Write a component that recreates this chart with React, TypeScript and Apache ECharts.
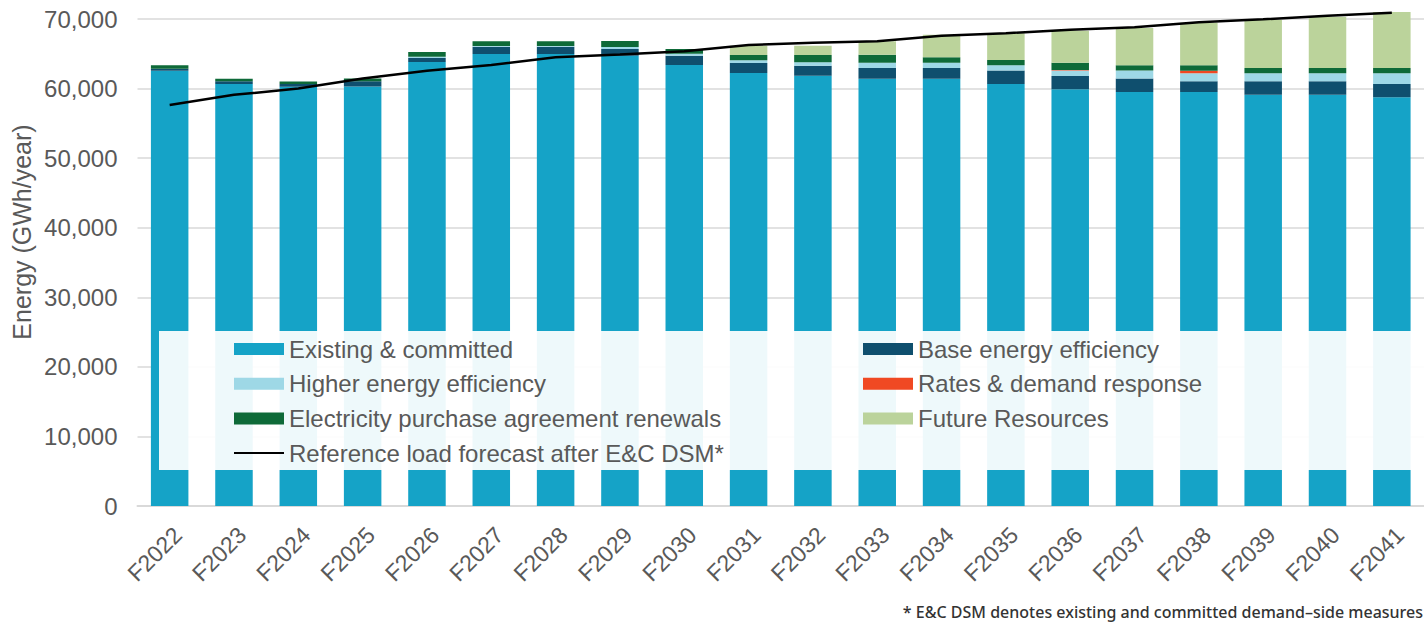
import React, { useEffect, useRef } from "react";
import * as echarts from "echarts";

const categories = ["F2022","F2023","F2024","F2025","F2026","F2027","F2028","F2029","F2030","F2031","F2032","F2033","F2034","F2035","F2036","F2037","F2038","F2039","F2040","F2041"];
const existingCommitted = [62570,60660,60270,60300,63820,64970,64970,64700,63390,62250,61850,61420,61420,60660,59890,59510,59510,59120,59120,58750];
const baseEnergyEfficiency = [290,380,380,770,575,1050,1050,1000,1340,1440,1440,1530,1530,1920,1920,1920,1530,1920,1920,1920];
const higherEnergyEfficiency = [0,0,0,0,190,100,100,290,290,380,480,770,770,770,770,1150,1150,1150,1150,1530];
const ratesDemandResponse = [0,0,0,0,0,0,0,0,0,0,0,0,0,0,80,0,380,0,0,0];
const epaRenewals = [490,380,380,380,670,670,670,860,670,770,1050,1150,770,770,1050,770,770,770,770,770];
const futureResources = [0,0,0,0,0,0,0,0,0,1300,1340,1920,3260,3830,4600,5360,6130,6900,7380,8050];
const referenceLoad = [57650,59100,60000,61450,62550,63400,64500,64900,65350,66250,66600,66800,67600,67950,68450,68800,69550,69950,70450,70900];
const yTicks = { min: 0, max: 70000, interval: 10000 };

const TXT = "#595959";
const FONT = "Liberation Sans, Arial";
const LINE_NAME = "Reference load forecast after E&C DSM*";

export default function App() {
  const ref = useRef<HTMLDivElement>(null);
  useEffect(() => {
    if (!ref.current) return;
    const chart = echarts.init(ref.current, null, { renderer: "svg" });
    const bar = (name: string, data: number[], color: string) => ({
      name,
      type: "bar",
      stack: "total",
      data,
      barWidth: 37.5,
      clip: false,
      itemStyle: { color },
      emphasis: { disabled: true },
    });
    const legendText = { fontSize: 24, lineHeight: 26, color: TXT, fontFamily: FONT };
    chart.setOption({
      animation: false,
      grid: { left: 137.5, right: -1.5, top: 19, bottom: 123, containLabel: false },
      xAxis: {
        type: "category",
        data: categories,
        axisLine: { lineStyle: { color: "#d9d9d9", width: 2 } },
        axisTick: { show: false },
        axisLabel: {
          rotate: 45,
          fontSize: 23,
          color: TXT,
          fontFamily: FONT,
          margin: 17,
          align: "right",
          verticalAlign: "top",
        },
      },
      yAxis: {
        type: "value",
        min: yTicks.min,
        max: yTicks.max,
        interval: yTicks.interval,
        axisLine: { show: false },
        axisTick: { show: false },
        splitLine: { lineStyle: { color: "#d9d9d9", width: 1.5 } },
        axisLabel: {
          fontSize: 24,
          color: TXT,
          fontFamily: FONT,
          margin: 20,
          formatter: (v: number) => v.toLocaleString("en-US"),
        },
      },
      legend: [
        {
          data: [
            { name: "Existing & committed", icon: "rect" },
            { name: "Higher energy efficiency", icon: "rect" },
            { name: "Electricity purchase agreement renewals", icon: "rect" },
            { name: LINE_NAME, itemStyle: { opacity: 0 } },
          ],
          orient: "vertical",
          left: 233,
          top: 336,
          padding: 0,
          itemWidth: 50,
          itemHeight: 12,
          itemGap: 8.7,
          z: 20,
          selectedMode: false,
          textStyle: legendText,
        },
        {
          data: [
            { name: "Base energy efficiency", icon: "rect" },
            { name: "Rates & demand response", icon: "rect" },
            { name: "Future Resources", icon: "rect" },
          ],
          orient: "vertical",
          left: 863,
          top: 336,
          padding: 0,
          itemWidth: 50,
          itemHeight: 12,
          itemGap: 8.7,
          z: 20,
          selectedMode: false,
          textStyle: legendText,
        },
      ],
      graphic: [
        {
          type: "rect",
          shape: { x: 159, y: 331, width: 1280, height: 139 },
          style: { fill: "rgba(255,255,255,0.93)" },
          z: 10,
          silent: true,
        },
        {
          type: "text",
          x: 22,
          y: 232,
          rotation: Math.PI / 2,
          style: {
            text: "Energy (GWh/year)",
            fontSize: 25,
            fill: TXT,
            fontFamily: FONT,
            textAlign: "center",
            textVerticalAlign: "middle",
          },
        },
        {
          type: "text",
          right: 1,
          top: 604,
          style: {
            text: "* E&C DSM denotes existing and committed demand\u2013side measures",
            fontSize: 16,
            fontWeight: 500,
            fill: "#333333",
            fontFamily: "Noto Sans, Lato, sans-serif",
          },
        },
      ],
      series: [
        bar("Existing & committed", existingCommitted, "#15A3C7"),
        bar("Base energy efficiency", baseEnergyEfficiency, "#0F4F6E"),
        bar("Higher energy efficiency", higherEnergyEfficiency, "#9ED8E6"),
        bar("Rates & demand response", ratesDemandResponse, "#F04923"),
        bar("Electricity purchase agreement renewals", epaRenewals, "#0E6A38"),
        bar("Future Resources", futureResources, "#BBD39B"),
        {
          name: LINE_NAME,
          type: "line",
          data: referenceLoad,
          symbol: "none",
          showSymbol: false,
          clip: false,
          z: 5,
          lineStyle: { color: "#000000", width: 2.5 },
          itemStyle: { color: "#000000" },
          emphasis: { disabled: true },
        },
      ],
    });
    return () => chart.dispose();
  }, []);
  return <div ref={ref} style={{ position: "absolute", left: 0, top: 0, width: 1424, height: 629 }} />;
}
